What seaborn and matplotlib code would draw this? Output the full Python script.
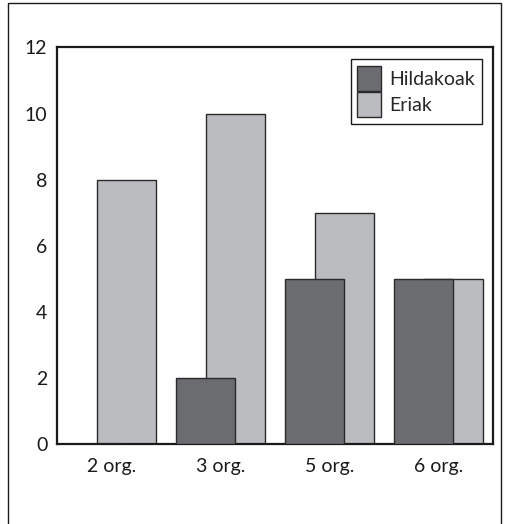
import numpy as np
import pandas as pd
import matplotlib
matplotlib.use("Agg")
import matplotlib.pyplot as plt
from matplotlib.patches import Rectangle, Patch
import seaborn as sns

categories = ["2 org.", "3 org.", "5 org.", "6 org."]
hildakoak = [0, 2, 5, 5]
eriak = [8, 10, 7, 5]
series_names = ["Hildakoak", "Eriak"]
yticks = [0, 2, 4, 6, 8, 10, 12]

dark = "#6b6c70"
light = "#bbbcc0"
edge = "#2a2a2a"

sns.set_theme(style="white")
plt.rcParams["font.family"] = ["Lato", "DejaVu Sans"]

fig = plt.figure(figsize=(5.07, 5.24), dpi=100)
ax = fig.add_axes([0.1124, 0.1527, 0.8600, 0.7567])

pos = np.arange(len(categories))
shift = 0.14
width = 0.54

df_e = pd.DataFrame({"x": pos + shift, "y": eriak})
df_h = pd.DataFrame({"x": pos - shift, "y": hildakoak})

# light series behind, dark series in front
sns.barplot(data=df_e, x="x", y="y", native_scale=True, width=width,
            color=light, saturation=1, edgecolor=edge, linewidth=1.0,
            errorbar=None, ax=ax, zorder=2)
sns.barplot(data=df_h, x="x", y="y", native_scale=True, width=width,
            color=dark, saturation=1, edgecolor=edge, linewidth=1.0,
            errorbar=None, ax=ax, zorder=3)

ax.set_xlim(-0.5, len(categories) - 0.5)
ax.set_ylim(0, 12)
ax.set_xticks(pos)
ax.set_xticklabels(categories)
ax.set_yticks(yticks)
ax.set_yticklabels([str(v) for v in yticks])
ax.set_xlabel("")
ax.set_ylabel("")
ax.tick_params(axis="both", length=0, labelsize=14, colors="#1a1a1a")
ax.tick_params(axis="x", pad=10)
ax.tick_params(axis="y", pad=7)

for s in ax.spines.values():
    s.set_visible(True)
    s.set_color("#1a1a1a")
    s.set_linewidth(1.6)

handles = [Patch(facecolor=dark, edgecolor=edge, linewidth=1.0),
           Patch(facecolor=light, edgecolor=edge, linewidth=1.0)]
leg = ax.legend(handles, series_names, loc="upper right",
                bbox_to_anchor=(0.975, 0.97), fontsize=14,
                frameon=True, fancybox=False, framealpha=1,
                handlelength=1.2, handleheight=1.55, handletextpad=0.45,
                borderpad=0.35, labelspacing=0.1, borderaxespad=0)
leg.get_frame().set_edgecolor("#1a1a1a")
leg.get_frame().set_linewidth(1.0)

# outer frame around the figure
fig.patches.append(Rectangle((8 / 507, -0.05), (501 - 8) / 507, 1 - 3 / 524 + 0.05,
                             transform=fig.transFigure, fill=False,
                             edgecolor="#1a1a1a", linewidth=1.0))

fig.savefig("out.png", dpi=100)
